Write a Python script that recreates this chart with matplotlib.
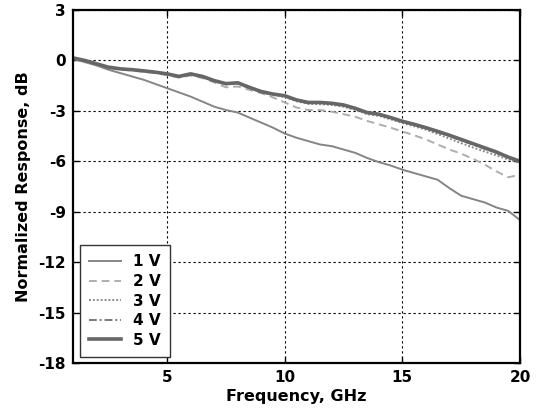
import matplotlib
matplotlib.use("Agg")
import matplotlib.pyplot as plt
import numpy as np

plt.rcParams['font.family'] = ['DejaVu Sans']
plt.rcParams['font.weight'] = 'bold'
plt.rcParams['axes.unicode_minus'] = False

freq = np.arange(1.0, 20.01, 0.5)

v1 = [0.1, -0.1, -0.3, -0.55, -0.75, -0.95, -1.15, -1.4, -1.65, -1.9,
      -2.15, -2.45, -2.75, -2.95, -3.1, -3.4, -3.7, -4.0, -4.35, -4.6,
      -4.8, -5.0, -5.1, -5.3, -5.5, -5.8, -6.05, -6.25, -6.5, -6.7,
      -6.9, -7.1, -7.6, -8.05, -8.25, -8.45, -8.75, -8.95, -9.5]
v2 = [0.1, -0.05, -0.25, -0.45, -0.55, -0.6, -0.68, -0.75, -0.88, -1.02,
      -0.9, -1.05, -1.3, -1.6, -1.55, -1.75, -1.95, -2.2, -2.5, -2.8,
      -2.95, -2.95, -3.05, -3.2, -3.35, -3.6, -3.8, -4.0, -4.23, -4.45,
      -4.7, -5.0, -5.3, -5.55, -5.85, -6.2, -6.6, -6.95, -6.8]
v3 = [0.15, 0.0, -0.2, -0.42, -0.52, -0.57, -0.65, -0.72, -0.83, -0.98,
      -0.84, -0.98, -1.24, -1.42, -1.38, -1.65, -1.9, -2.05, -2.18, -2.43,
      -2.58, -2.6, -2.65, -2.75, -2.95, -3.2, -3.3, -3.5, -3.72, -3.92,
      -4.12, -4.38, -4.65, -4.92, -5.18, -5.42, -5.65, -5.9, -6.1]
v4 = [0.15, 0.0, -0.2, -0.41, -0.51, -0.56, -0.63, -0.71, -0.81, -0.96,
      -0.81, -0.96, -1.22, -1.4, -1.35, -1.62, -1.87, -2.02, -2.13, -2.38,
      -2.53, -2.53, -2.58, -2.68, -2.88, -3.13, -3.23, -3.43, -3.65, -3.84,
      -4.04, -4.27, -4.5, -4.76, -5.01, -5.26, -5.5, -5.8, -6.05]
v5 = [0.15, 0.0, -0.2, -0.4, -0.5, -0.55, -0.62, -0.7, -0.8, -0.95,
      -0.8, -0.95, -1.2, -1.38, -1.33, -1.6, -1.85, -2.0, -2.1, -2.35,
      -2.5, -2.5, -2.55, -2.65, -2.85, -3.1, -3.2, -3.4, -3.62, -3.8,
      -4.0, -4.22, -4.45, -4.7, -4.95, -5.2, -5.45, -5.75, -6.0]

labels = ['1 V', '2 V', '3 V', '4 V', '5 V']
xticks = [5, 10, 15, 20]
yticks = [-18, -15, -12, -9, -6, -3, 0, 3]

fig = plt.figure(figsize=(5.38, 4.08), dpi=100)
ax = fig.add_axes([73/538, 1-363/408, (520-73)/538, (363-10)/408])

ax.plot(freq, v1, color='#858585', lw=1.4, ls='-', label=labels[0])
ax.plot(freq, v2, color='#adadad', lw=1.4, ls=(0, (4, 2.5)), label=labels[1])
ax.plot(freq, v3, color='#8c8c8c', lw=1.4, ls=(0, (1, 1)), label=labels[2])
ax.plot(freq, v4, color='#7a7a7a', lw=1.4, ls=(0, (4, 1.5, 1, 1.5)), label=labels[3])
ax.plot(freq, v5, color='#666666', lw=2.6, ls='-', label=labels[4])

ax.set_xlim(1, 20)
ax.set_ylim(-18, 3)
ax.set_xticks(xticks)
ax.set_yticks(yticks)
ax.tick_params(direction='in', length=4, width=1, top=True, right=True,
               labelsize=11, pad=5)
for lab in ax.get_xticklabels() + ax.get_yticklabels():
    lab.set_fontweight('bold')
ax.grid(True, color='black', ls=(0, (2, 2.5)), lw=0.8)
for s in ax.spines.values():
    s.set_linewidth(1.6)
    s.set_color('black')

ax.set_xlabel('Frequency, GHz', fontsize=11.5, fontweight='bold', labelpad=3)
ax.set_ylabel('Normalized Response, dB', fontsize=11.5, fontweight='bold', labelpad=5)

leg = ax.legend(loc='lower left', bbox_to_anchor=(7/447, 6/353), borderaxespad=0,
                fancybox=False, framealpha=1, edgecolor='#333333',
                prop={'size': 11, 'weight': 'bold'}, handlelength=2.1,
                labelspacing=0.3, handletextpad=0.75, borderpad=0.6)
leg.get_frame().set_linewidth(1.0)

fig.savefig('out.png', dpi=100)
